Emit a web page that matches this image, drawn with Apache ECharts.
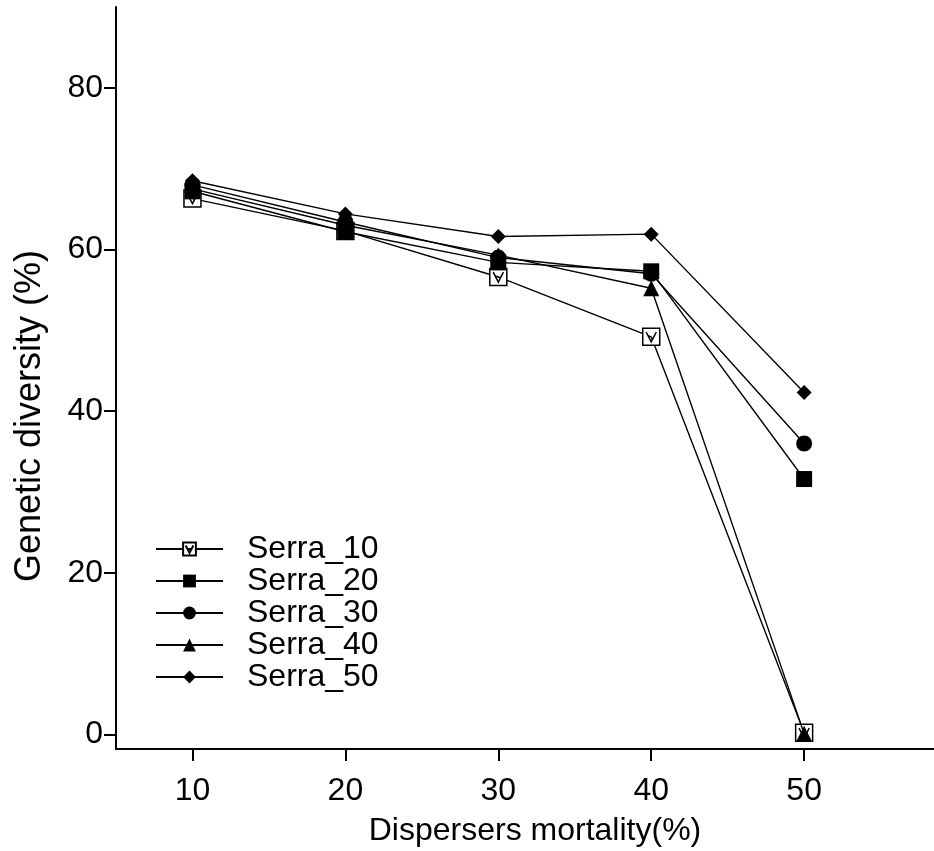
<!DOCTYPE html>
<html>
<head>
<meta charset="utf-8">
<script src="https://cdn.jsdelivr.net/npm/echarts@6.0.0/dist/echarts.min.js"></script>
<style>
  html, body { margin: 0; padding: 0; background: #fff; }
  #chart { width: 934px; height: 851px; }
</style>
</head>
<body>
<div id="chart"></div>
<script>
// mortality levels on the x axis
const mortality = [10, 20, 30, 40, 50];
const yTicks = [0, 20, 40, 60, 80];

const serra10 = [66.3, 62.3, 56.6, 49.2, 0.2];
const serra20 = [67.2, 62.2, 58.4, 57.3, 31.6];
const serra30 = [68.0, 63.4, 59.0, 57.0, 36.0];
const serra40 = [67.5, 63.0, 59.3, 55.2, 0.1];
const serra50 = [68.5, 64.4, 61.6, 61.9, 42.3];

const seriesNames = ['Serra_10', 'Serra_20', 'Serra_30', 'Serra_40', 'Serra_50'];
const seriesValues = [serra10, serra20, serra30, serra40, serra50];

const font = 'Liberation Sans';
const symbols = [
    'path://M0,0L10,0L10,10L0,10ZM2,2.2L5,8L8,2.2',
    'rect',
    'circle',
    'triangle',
    'diamond'
];
const sizes = [17, 16, 16, 16, 15];

const chart = echarts.init(document.getElementById('chart'));

const series = seriesNames.map(function (name, i) {
    const hollow = i === 0;
    return {
        name: name,
        type: 'line',
        data: mortality.map(function (m, j) { return [m, seriesValues[i][j]]; }),
        symbol: symbols[i],
        symbolSize: sizes[i],
        showAllSymbol: true,
        lineStyle: { color: '#000', width: 1.4 },
        itemStyle: hollow
            ? { color: '#fff', borderColor: '#000', borderWidth: 1.5 }
            : { color: '#000', borderWidth: 0 },
        emphasis: { disabled: true },
        z: 2 + i
    };
});

const option = {
    animation: false,
    backgroundColor: '#fff',
    grid: { left: 116, right: -20, top: 7, bottom: 102, outerBoundsMode: 'none', containLabel: false },
    legend: {
        orient: 'vertical',
        left: 155,
        top: 533,
        padding: 0,
        itemWidth: 67,
        itemHeight: 16,
        itemGap: 0,
        data: seriesNames,
        textStyle: {
            fontFamily: font,
            fontSize: 32,
            color: '#000',
            lineHeight: 32,
            padding: [0, 0, 0, 19]
        }
    },
    xAxis: {
        type: 'value',
        min: 5,
        max: 59.8,
        name: 'Dispersers mortality(%)',
        nameLocation: 'middle',
        nameGap: 66,
        nameTextStyle: { fontFamily: font, fontSize: 32, color: '#000' },
        splitLine: { show: false },
        axisLine: { show: true, onZero: false, lineStyle: { color: '#000', width: 2 } },
        axisTick: { show: true, length: 12, customValues: mortality, lineStyle: { color: '#000', width: 2 } },
        axisLabel: {
            customValues: mortality,
            margin: 26,
            fontFamily: font,
            fontSize: 32,
            color: '#000'
        }
    },
    yAxis: {
        type: 'value',
        min: -1.8,
        max: 90,
        name: 'Genetic diversity (%)',
        nameLocation: 'middle',
        nameGap: 68,
        nameRotate: 90,
        nameTextStyle: {
            fontFamily: font,
            fontSize: 36,
            color: '#000',
            padding: [0, 76, 0, 0]
        },
        splitLine: { show: false },
        axisLine: { show: true, onZero: false, lineStyle: { color: '#000', width: 2 } },
        axisTick: { show: true, length: 12, customValues: yTicks, lineStyle: { color: '#000', width: 2 } },
        axisLabel: {
            customValues: yTicks,
            margin: 13,
            fontFamily: font,
            fontSize: 32,
            color: '#000'
        }
    },
    series: series
};

chart.setOption(option);
</script>
</body>
</html>
